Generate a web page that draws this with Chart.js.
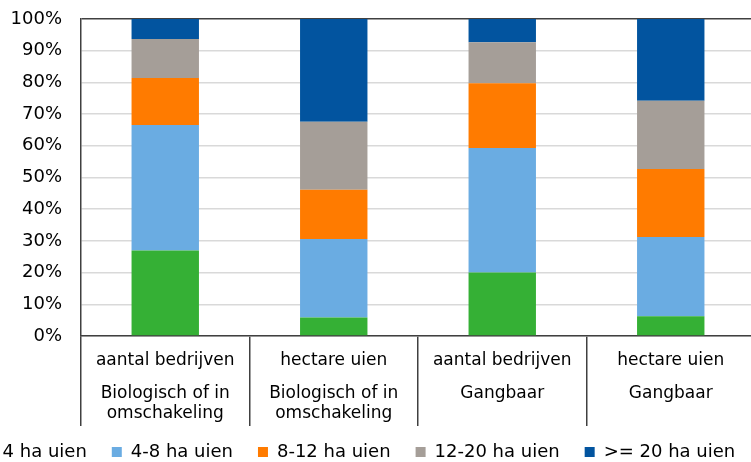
<!DOCTYPE html>
<html>
<head>
<meta charset="utf-8">
<script src="https://cdn.jsdelivr.net/npm/chart.js@4"></script>
<style>
  html, body { margin: 0; padding: 0; background: #fff; overflow: hidden; }
  #wrap { position: relative; width: 751px; height: 462px; overflow: hidden; background: #fff; }
  #c { position: absolute; left: -71px; top: 0; }
</style>
</head>
<body>
<div id="wrap"><canvas id="c" width="840" height="476"></canvas></div>
<script>
// ---- data ----
const measureLabels = ["aantal bedrijven", "hectare uien", "aantal bedrijven", "hectare uien"];
const groupLabels = [["Biologisch of in", "omschakeling"], ["Biologisch of in", "omschakeling"], ["Gangbaar"], ["Gangbaar"]];
const seriesNames = ["< 4 ha uien", "4-8 ha uien", "8-12 ha uien", "12-20 ha uien", ">= 20 ha uien"];
const under4 = [27.0, 5.8, 20.0, 6.2];
const from4to8 = [39.6, 24.8, 39.3, 25.0];
const from8to12 = [14.8, 15.5, 20.4, 21.5];
const from12to20 = [12.3, 21.5, 13.0, 21.5];
const over20 = [6.3, 32.4, 7.3, 25.8];
const yTicks = [0, 10, 20, 30, 40, 50, 60, 70, 80, 90, 100];

// ---- styles ----
const seriesColors = ["#35b035", "#6aace2", "#ff7b00", "#a59e98", "#02549f"];
const LEFT_OFFSET = 71;
const RIGHT_SPACE = 14;
const LEGEND_NUDGE = 5;
const FONT = "'DejaVu Sans', Verdana, sans-serif";
const axisDark = "#404040";

const seriesValues = [under4, from4to8, from8to12, from12to20, over20];
const datasets = seriesNames.map((name, i) => ({
  label: name,
  data: seriesValues[i],
  backgroundColor: seriesColors[i],
  borderWidth: 0,
  barPercentage: 0.4,
  categoryPercentage: 1.0
}));

const nudgeLegend = {
  id: 'nudgeLegend',
  afterLayout(chart) {
    if (chart.legend) {
      chart.legend.top -= LEGEND_NUDGE;
      chart.legend.bottom -= LEGEND_NUDGE;
    }
  }
};

new Chart(document.getElementById('c'), {
  type: 'bar',
  data: { labels: measureLabels, datasets },
  plugins: [nudgeLegend],
  options: {
    responsive: false,
    animation: false,
    devicePixelRatio: 1,
    layout: { padding: { top: 19, left: 0, right: 0, bottom: 0 } },
    plugins: {
      tooltip: { enabled: false },
      legend: {
        position: 'bottom',
        labels: {
          boxWidth: 10,
          boxHeight: 10,
          padding: 25,
          color: '#000',
          font: { family: FONT, size: 18 }
        }
      }
    },
    scales: {
      x: {
        stacked: true,
        offset: true,
        grid: {
          offset: true,
          drawOnChartArea: false,
          drawTicks: true,
          tickLength: 90,
          color: axisDark,
          lineWidth: 1.5
        },
        border: { display: true, color: axisDark, width: 1.5 },
        ticks: {
          autoSkip: false,
          maxRotation: 0,
          minRotation: 0,
          padding: -76,
          color: '#000',
          font: { family: FONT, size: 17 }
        },
        afterFit: (s) => { s.height = 35; }
      },
      x2: {
        type: 'category',
        labels: groupLabels,
        position: 'bottom',
        offset: true,
        grid: { display: false, drawTicks: false },
        border: { display: false },
        ticks: {
          autoSkip: false,
          maxRotation: 0,
          minRotation: 0,
          padding: 13,
          color: '#000',
          font: { family: FONT, size: 17, lineHeight: 1.15 }
        },
        afterFit: (s) => { s.height = 52; }
      },
      y: {
        stacked: true,
        min: 0,
        max: 100,
        afterBuildTicks: (s) => { s.ticks = yTicks.map(v => ({ value: v })); },
        ticks: {
          padding: 19,
          color: '#000',
          font: { family: FONT, size: 18 },
          callback: (v) => v + '%'
        },
        grid: {
          drawTicks: false,
          color: (ctx) => (ctx.tick && ctx.tick.value === 100) ? axisDark : '#d9d9d9',
          lineWidth: 1.5
        },
        border: { display: true, color: axisDark, width: 1.5 },
        afterFit: (s) => { s.width = 81 + LEFT_OFFSET; s.paddingTop = 10; s.paddingBottom = 10; }
      },
      ySpace: {
        position: 'right',
        display: true,
        grid: { display: false, drawTicks: false },
        border: { display: false },
        ticks: { display: false },
        afterFit: (s) => { s.width = RIGHT_SPACE; s.paddingTop = 0; s.paddingBottom = 0; }
      }
    }
  }
});
</script>
</body>
</html>
